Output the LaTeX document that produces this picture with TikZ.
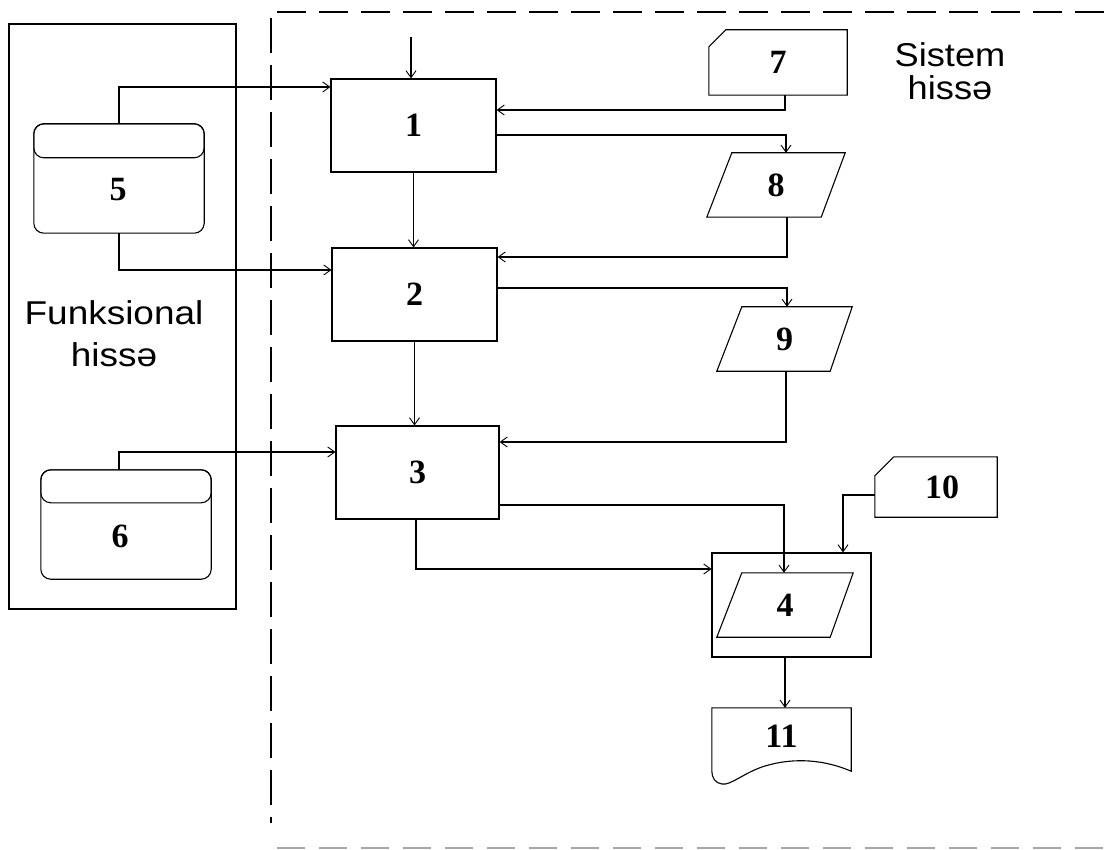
\documentclass[tikz,border=0pt]{standalone}
\usepackage{fontspec}
\setmainfont{Liberation Serif}
\newfontfamily\labsans{Liberation Sans}
\usetikzlibrary{arrows.meta,calc}
\tikzset{
  ln/.style={line width=1.1pt, draw=black},
  arr/.style={ln, -{Straight Barb[length=7pt,width=10pt,line width=0.9pt]}},
  blk/.style={ln, rectangle, inner sep=0pt, font=\fontsize{34}{34}\selectfont\bfseries},
  ghost/.style={rectangle, draw=none, inner sep=0pt, font=\fontsize{34}{34}\selectfont\bfseries},
  numlbl/.style={inner sep=0pt, font=\fontsize{34}{34}\selectfont\bfseries},
  bigtxt/.style={inner sep=0pt, align=center, xscale=1.12, transform shape, font=\labsans\fontsize{33}{42}\selectfont},
  region/.style={line width=1.1pt, dash pattern=on 35pt off 12pt},
}
\begin{document}
\begin{tikzpicture}[x=1pt,y=-1pt]
\useasboundingbox (0,0) rectangle (1111,850);

% regions
\draw[ln] (9,24) rectangle (236,609);
\draw[region] (271,18) -- (271,823);
\draw[line width=1.1pt, dash pattern=on 29pt off 13pt] (277,12) -- (1111,12);
\draw[line width=1.1pt, draw=black!35, dash pattern=on 28pt off 14pt] (277,848) -- (1111,848);

\node[bigtxt] (funk) at (114,334) {Funksional\\hiss\char"0259};
\node[bigtxt, xscale=0.98, font=\labsans\fontsize{33}{33}\selectfont] (sist) at (950,71) {Sistem\\hiss\char"0259};

% process blocks
\node[blk, minimum width=165pt, minimum height=93pt] (n1) at (413.5,125.5) {1};
\node[blk, minimum width=165pt, minimum height=93pt] (n2) at (414.5,294.5) {2};
\node[blk, minimum width=163pt, minimum height=93pt] (n3) at (417.5,472.5) {3};

% 5 and 6 (storage)
\node[ghost, minimum width=170pt, minimum height=109pt] (n5) at (119,178.5) {};
\draw[ln, rounded corners=10pt] (n5.north west) rectangle (n5.south east);
\draw[ln, rounded corners=10pt] (n5.north west) rectangle ($(n5.north east)+(0,34)$);
\node[numlbl] (t5) at (118,190) {5};

\node[ghost, minimum width=170pt, minimum height=109pt] (n6) at (126,524.5) {};
\draw[ln, rounded corners=10pt] (n6.north west) rectangle (n6.south east);
\draw[ln, rounded corners=10pt] (n6.north west) rectangle ($(n6.north east)+(0,33)$);
\node[numlbl] (t6) at (120,536) {6};

% 7 and 10 (cards)
\node[ghost, minimum width=138pt, minimum height=65pt] (n7) at (778,62.5) {7};
\draw[ln] ($(n7.north west)+(0,17)$) -- ($(n7.north west)+(17,0)$) -- (n7.north east) -- (n7.south east) -- (n7.south west) -- cycle;
\node[ghost, minimum width=122pt, minimum height=60pt] (n10) at (936,487) {\hspace*{12pt}10};
\draw[ln] ($(n10.north west)+(0,19)$) -- ($(n10.north west)+(19,0)$) -- (n10.north east) -- (n10.south east) -- (n10.south west) -- cycle;

% 8, 9 (parallelograms)
\node[ghost, minimum width=138pt, minimum height=64pt] (n8) at (776,185) {8};
\draw[ln] (n8.south west) -- ($(n8.north west)+(25,0)$) -- (n8.north east) -- ($(n8.south east)+(-24,0)$) -- cycle;
\node[ghost, minimum width=135pt, minimum height=64pt] (n9) at (784.5,339) {9};
\draw[ln] (n9.south west) -- ($(n9.north west)+(25,0)$) -- (n9.north east) -- ($(n9.south east)+(-22,0)$) -- cycle;

% 4
\node[blk, minimum width=159pt, minimum height=104pt] (n4) at (791.5,605) {};
\node[ghost, minimum width=136pt, minimum height=64pt] (n4in) at (785,605) {4};
\draw[ln] (n4in.south west) -- ($(n4in.north west)+(25,0)$) -- (n4in.north east) -- ($(n4in.south east)+(-23,0)$) -- cycle;

% 11 document
\node[ghost, minimum width=139pt, minimum height=63pt, text depth=0pt] (n11) at (781.5,739.5) {\raisebox{6pt}{11}};
\draw[ln] (n11.south west) -- (n11.north west) -- (n11.north east) -- (n11.south east)
  .. controls (825,760) and (795,757) .. (765,766)
  .. controls (745,772) and (730,786) .. (722,784)
  .. controls (715,783) and (712,778) .. (n11.south west);

% connectors
\coordinate (top) at (411,37);
\draw[arr] (top) -- (top |- n1.north);
\draw[arr] (n5.north) |- (n1.west |- 0,87);
\draw[arr] (n5.south) |- (n2.west |- 0,270);
\draw[arr] (119,0 |- n6.north) |- (n3.west |- 0,452);
\draw[arr] (785,0 |- n7.south) |- (n1.east |- 0,110);
\draw[arr] (n1.east |- 0,135) -| (786,0 |- n8.north);
\draw[arr] (n1.south) -- (n1.south |- n2.north);
\draw[arr] (787,0 |- n8.south) |- (n2.east |- 0,257);
\draw[arr] (n2.east |- 0,288) -| (787,0 |- n9.north);
\draw[arr] (n2.south) -- (n2.south |- n3.north);
\draw[arr] (786,0 |- n9.south) |- (n3.east |- 0,442);
\draw[arr] (n3.east |- 0,505) -| (784,0 |- n4in.north);
\draw[arr] (416,0 |- n3.south) |- (n4.west |- 0,569);
\draw[arr] (n10.west |- 0,495) -| (843,0 |- n4.north);
\draw[arr] (785,0 |- n4.south) -- (785,0 |- n11.north);
\end{tikzpicture}
\end{document}
